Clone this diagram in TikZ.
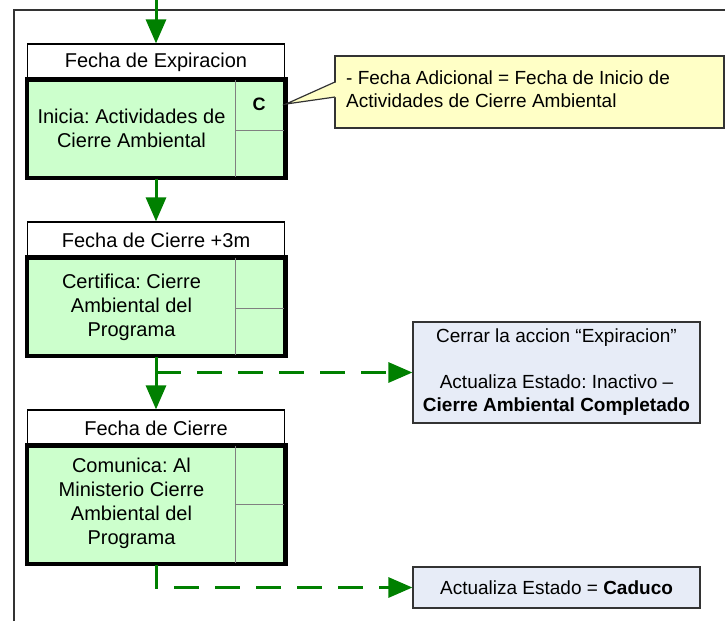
\documentclass[tikz,border=0pt]{standalone}
\usepackage{fontspec}
\setmainfont{Liberation Sans}
\usetikzlibrary{arrows.meta}
\frenchspacing
\definecolor{flowgreen}{HTML}{008000}
\definecolor{bodygreen}{HTML}{CCFFCC}
\definecolor{noteyellow}{HTML}{FFFFC6}
\definecolor{infoblue}{HTML}{E7ECF7}
\definecolor{divgray}{HTML}{808080}
\tikzset{
  hdr/.style={draw=black, line width=1.2pt, fill=white, minimum width=257pt, minimum height=36pt, inner sep=0pt, font=\fontsize{20}{24}\selectfont},
  bodybox/.style={draw=black, line width=3pt, fill=bodygreen, minimum width=257pt, inner sep=0pt},
  btext/.style={align=center, inner sep=0pt, font=\fontsize{20}{24}\selectfont},
  divider/.style={draw=divgray, line width=1pt},
  flow/.style={draw=flowgreen, line width=3pt, -{Triangle[width=20pt,length=24pt]}},
  dflow/.style={flow, dash pattern=on 25pt off 16pt},
  info/.style={draw=black!80, line width=1.2pt, fill=infoblue, minimum width=287pt, align=center, inner sep=0pt, font=\fontsize{19}{23}\selectfont},
  note/.style={draw=black!80, line width=1.2pt, fill=noteyellow, minimum width=389pt, minimum height=72pt, inner sep=0pt},
  frameline/.style={draw=black!80, line width=1.5pt}
}
\begin{document}
\begin{tikzpicture}[x=1pt,y=-1pt]
\useasboundingbox (0,0) rectangle (725,621);

% frame
\coordinate (fb) at (14,621);
\coordinate (fc) at (14,10);
\coordinate (fr) at (725,10);
\draw[frameline] (fb) -- (fc) -- (fr);

% block 1
\node[hdr] (h1) at (156,62) {Fecha de Expiracion};
\node[bodybox, minimum height=97pt] (b1) at (156,128.5) {};
\draw[divider] (235,80) -- (235,177);
\draw[divider] (235,130) -- (284,130);
\node[btext] (t1) at (131.5,128.5) {Inicia: Actividades de\\Cierre Ambiental};
\node[btext, font=\fontsize{18}{22}\selectfont\bfseries] (c1) at (259,104) {C};

% block 2
\node[hdr] (h2) at (156,240) {Fecha de Cierre +3m};
\node[bodybox, minimum height=97pt] (b2) at (156,306.5) {};
\draw[divider] (235,258) -- (235,355);
\draw[divider] (235,308) -- (284,308);
\node[btext] (t2) at (131.5,307) {Certifica: Cierre\\Ambiental del\\Programa};

% block 3
\node[hdr] (h3) at (156,428) {Fecha de Cierre};
\node[bodybox, minimum height=117pt] (b3) at (156,504.5) {};
\draw[divider] (235,446) -- (235,563);
\draw[divider] (235,504) -- (284,504);
\node[btext] (t3) at (131.5,503.5) {Comunica: Al\\Ministerio Cierre\\Ambiental del\\Programa};

% redraw block outlines on top of dividers
\draw[black, line width=3pt] (b1.north west) rectangle (b1.south east);
\draw[black, line width=3pt] (b2.north west) rectangle (b2.south east);
\draw[black, line width=3pt] (b3.north west) rectangle (b3.south east);

% right info boxes
\node[info, minimum height=101pt] (r1) at (556.5,372.5) {Cerrar la accion “Expiracion”\\[23pt]Actualiza Estado: Inactivo –\\\textbf{Cierre Ambiental Completado}};
\node[info, minimum height=41pt] (r2) at (556.5,587.5) {Actualiza Estado = \textbf{Caduco}};

% callout
\node[note] (co) at (529.5,92) {};
\coordinate (tip) at (286,104);
\fill[noteyellow] (337,82) -- (tip) -- (337,97) -- cycle;
\draw[black!80, line width=1.2pt] (335,82) -- (tip) -- (335,97);
\node[anchor=west, align=left, inner sep=0pt, font=\fontsize{19}{23}\selectfont] (cot) at (346,89.5) {- Fecha Adicional = Fecha de Inicio de\\Actividades de Cierre Ambiental};

% flow arrows
\coordinate (in) at (156,0);
\draw[flow] (in) -- (h1.north);
\draw[flow] (b1.south) -- (h2.north);
\draw[flow] (b2.south) -- (h3.north);
\draw[dflow] (b2.south |- r1.west) -- (r1.west);
\draw[dflow] (b3.south) -- (b3.south |- r2.west) -- (r2.west);
\end{tikzpicture}
\end{document}
